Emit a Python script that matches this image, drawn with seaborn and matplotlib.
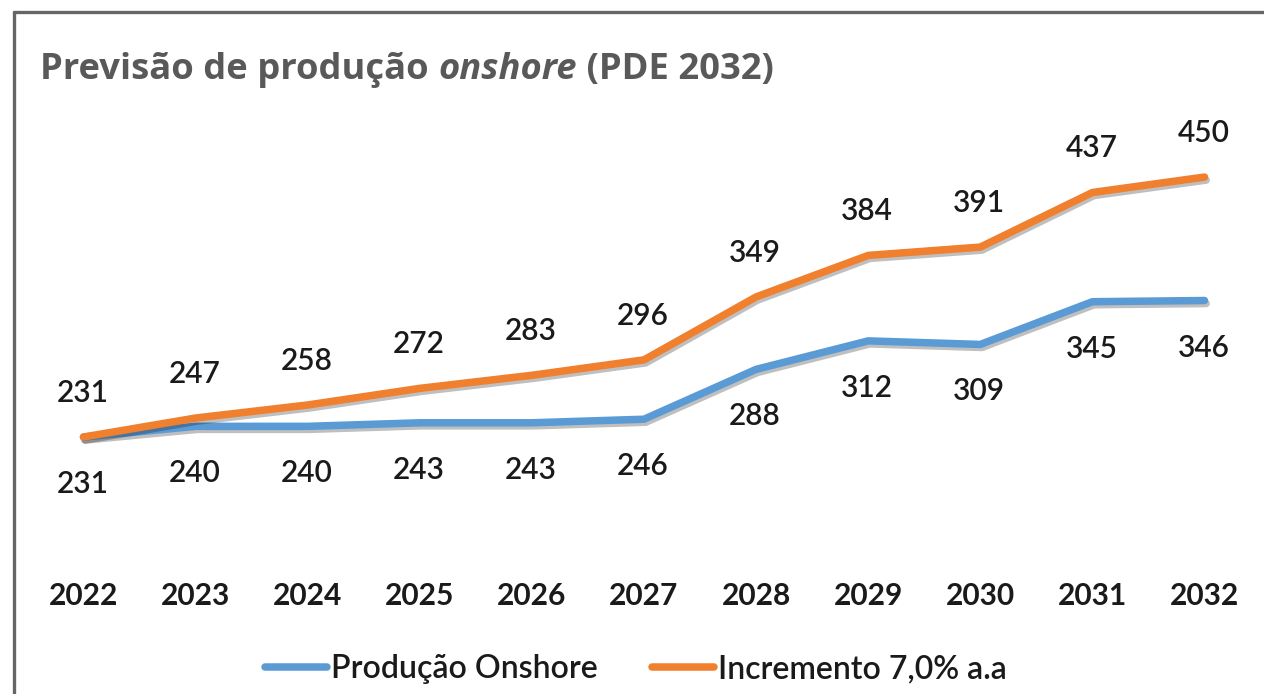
import matplotlib
matplotlib.use("Agg")
import matplotlib.pyplot as plt
import matplotlib.patheffects as pe
from matplotlib.lines import Line2D
import seaborn as sns
import pandas as pd

years = ["2022", "2023", "2024", "2025", "2026", "2027", "2028", "2029", "2030", "2031", "2032"]
producao_onshore = [231, 240, 240, 243, 243, 246, 288, 312, 309, 345, 346]
incremento_7pct = [231, 247, 258, 272, 283, 296, 349, 384, 391, 437, 450]
series_names = ["Produção Onshore", "Incremento 7,0% a.a"]
colors = ["#5B9BD5", "#F07F2E"]

sns.set_theme(style="white")
plt.rcParams["font.family"] = ["Lato", "DejaVu Sans"]

W, H = 1264, 694
fig = plt.figure(figsize=(W / 100, H / 100), dpi=100)
fig.patch.set_facecolor("white")

ax = fig.add_axes([30 / W, 1 - 560 / H, 1230 / W, 410 / H])

df = pd.DataFrame({
    "idx": list(range(len(years))) * 2,
    "value": producao_onshore + incremento_7pct,
    "serie": [series_names[0]] * len(years) + [series_names[1]] * len(years),
})

sns.lineplot(data=df, x="idx", y="value", hue="serie", palette=colors,
             linewidth=5.4, ax=ax, legend=False, sort=False)
for ln in ax.get_lines():
    ln.set_solid_capstyle("round")
    ln.set_solid_joinstyle("round")
    ln.set_path_effects([pe.SimpleLineShadow(offset=(1.2, -2.2), shadow_color="black", alpha=0.25),
                         pe.Normal()])

ax.set_xlim(-0.477, 10.495)
ax.set_ylim(127.4, 472.8)
ax.set_xticks(range(len(years)))
ax.set_xticklabels(years, fontsize=21.5, fontweight="bold", color="#1a1a1a")
ax.tick_params(axis="x", length=0, pad=16)
ax.set_yticks([])
ax.set_xlabel("")
ax.set_ylabel("")
for s in ax.spines.values():
    s.set_visible(False)

label_kw = dict(textcoords="offset pixels", ha="center", va="center",
                fontsize=21.5, fontweight="semibold", color="#1a1a1a")
for i, v in enumerate(incremento_7pct):
    ax.annotate(str(v), (i, v), xytext=(-1, 44), **label_kw)
for i, v in enumerate(producao_onshore):
    ax.annotate(str(v), (i, v), xytext=(-1, -47), **label_kw)

# legend
handles = [Line2D([], [], color=c, linewidth=5.4, solid_capstyle="round") for c in colors]
fig.legend(handles, series_names, loc="center", bbox_to_anchor=(636 / W, 1 - 669 / H),
           ncol=2, frameon=False, prop={"size": 23, "weight": "semibold"},
           handlelength=1.95, handletextpad=0.12, columnspacing=1.7, labelcolor="#1a1a1a")

# frame lines (top and left)
fig.add_artist(Line2D([13.5 / W, 1], [1 - 11.5 / H, 1 - 11.5 / H], color="#666666", linewidth=2.4,
                      transform=fig.transFigure))
fig.add_artist(Line2D([13.5 / W, 13.5 / W], [0, 1 - 11.5 / H], color="#666666", linewidth=2.4,
                      transform=fig.transFigure))

# title with italic part
title_parts = [("Previsão de produção ", "normal"), ("onshore", "italic"), (" (PDE 2032)", "normal")]
fig.canvas.draw()
renderer = fig.canvas.get_renderer()
x = 40 / W
for txt, style in title_parts:
    t = fig.text(x, 1 - 79 / H, txt, fontsize=26.2, fontweight="bold", fontstyle=style,
                 color="#595959", family=["Open Sans", "DejaVu Sans"], va="baseline", ha="left")
    bb = t.get_window_extent(renderer=renderer)
    x = bb.x1 / W

fig.savefig("out.png", dpi=100, facecolor="white")
